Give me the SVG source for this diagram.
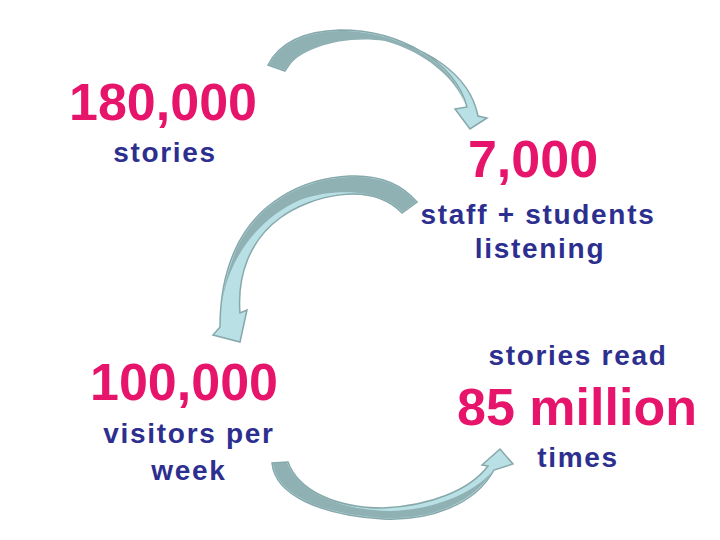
<svg xmlns="http://www.w3.org/2000/svg" width="720" height="540" viewBox="0 0 720 540">
<style>
.num{font-family:"Liberation Sans",Arial,sans-serif;font-weight:bold;font-size:52px;fill:#e6146b;text-anchor:middle}
.lbl{font-family:"Liberation Sans",Arial,sans-serif;font-weight:bold;font-size:28px;fill:#2d2f8f;text-anchor:middle;letter-spacing:1.7px}
.arr{fill:#b9e0e5;stroke:#86a8ab;stroke-width:1.5;stroke-linejoin:miter}
.arrd{fill:#8fb1b4;stroke:none}
</style>
<rect width="720" height="540" fill="#ffffff"/>
<g id="connectors">
  <g id="arrow1">
    <path class="arr" d="M268,65 C280,42 305,31 340,30 C400,30 455,62 467,107 L455,109 L470,129 L487,118 L478,116 C470,75 425,42 365,37 C325,35 298,48 285,71 Z"/>
    <path class="arrd" d="M269,65 C281,43 305,32 340,31 C400,31 454,63 465,104 C455,78 425,52 385,41 C345,35 300,47 285,70 Z"/>
  </g>
  <g id="arrow2">
    <path class="arr" d="M417,202 C400,182 375,175 350,176 C300,178 255,205 235,250 C225,272 220,300 220,327 L213,335 L240,342 L247,310 L240,313 C237,275 250,240 280,218 C310,196 370,180 402,213 Z"/>
    <path class="arrd" d="M416,202 C400,183 375,176 350,177 C300,179 256,206 236,250 C229,268 224,285 222,303 C228,262 255,220 300,200 C340,186 385,192 402,212 Z"/>
  </g>
  <g id="arrow3">
    <path class="arr" d="M272,463 C275,495 320,515 383,519 C430,521 475,505 494,470 L513,464 L500,449 L482,465 L488,466 C470,490 430,506 383,508 C335,508 298,490 288,462 Z"/>
    <path class="arrd" d="M273,463 C276,494 320,514 383,518 C430,520 472,504 492,472 C470,496 430,510 390,511 C340,510 300,493 287,463 Z"/>
  </g>
</g>
<g id="node-stories">
  <text class="num" x="163" y="120">180,000</text>
  <text class="lbl" x="165" y="162">stories</text>
</g>
<g id="node-staff">
  <text class="num" x="533" y="177">7,000</text>
  <text class="lbl" x="538" y="224">staff + students</text>
  <text class="lbl" x="540" y="258">listening</text>
</g>
<g id="node-visitors">
  <text class="num" x="184" y="400">100,000</text>
  <text class="lbl" x="189" y="443">visitors per</text>
  <text class="lbl" x="189" y="480">week</text>
</g>
<g id="node-reads">
  <text class="lbl" x="578" y="365">stories read</text>
  <text class="num" x="577" y="425">85 million</text>
  <text class="lbl" x="578" y="467">times</text>
</g>
</svg>
